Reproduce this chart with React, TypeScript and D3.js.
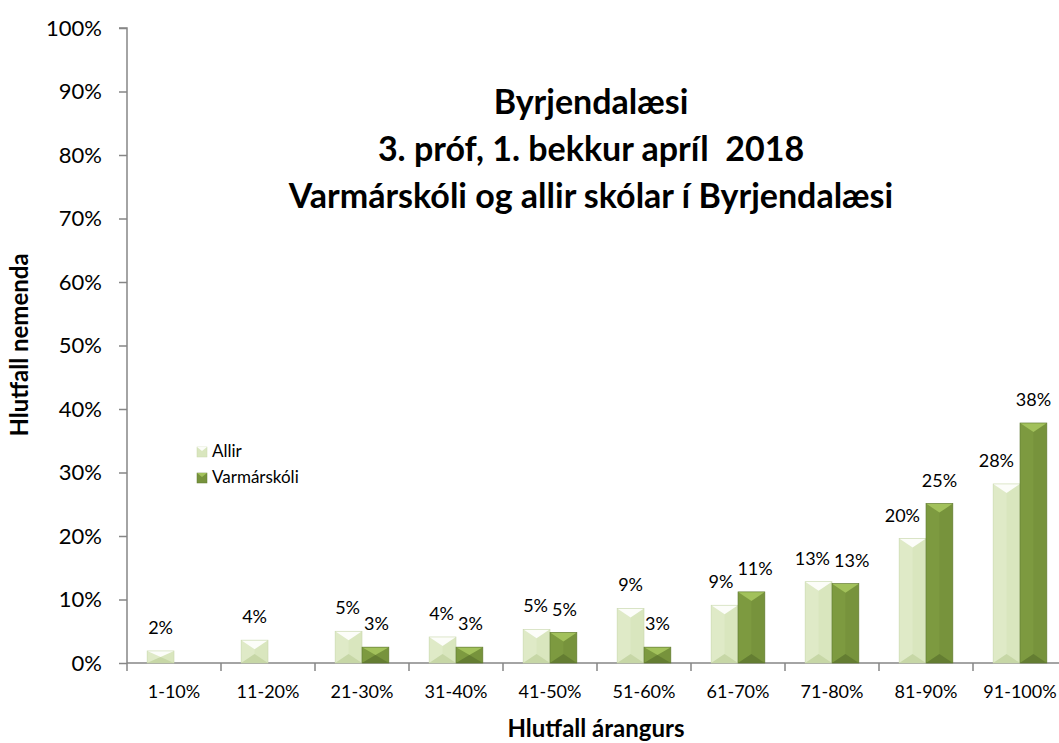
import React, { useRef, useEffect } from "react";
import * as d3 from "d3";

const categories = ["1-10%", "11-20%", "21-30%", "31-40%", "41-50%", "51-60%", "61-70%", "71-80%", "81-90%", "91-100%"];
const allir = [0.019, 0.036, 0.05, 0.041, 0.053, 0.086, 0.091, 0.128, 0.196, 0.282];
const varmarskoli = [0, 0, 0.025, 0.025, 0.048, 0.025, 0.112, 0.125, 0.251, 0.378];
const yTicks = [0, 0.1, 0.2, 0.3, 0.4, 0.5, 0.6, 0.7, 0.8, 0.9, 1];
const seriesNames = ["Allir", "Varmárskóli"];
const titleLines = ["Byrjendalæsi", "3. próf, 1. bekkur apríl  2018", "Varmárskóli og allir skólar í Byrjendalæsi"];

const W = 1059;
const H = 743;
const font = "Lato, 'Open Sans', sans-serif";

const styles = [
  { base: "#d9e6be", light: "#ffffff", dark: "#c2d3a0", side: "#e6efd3", stroke: "#c9d8ad" },
  { base: "#77933c", light: "#a6c65e", dark: "#5f7830", side: "#86a445", stroke: "#5f7830" },
];

const App = () => {
  const svgRef = useRef(null);

  useEffect(() => {
    const svg = d3.select(svgRef.current);
    svg.selectAll("*").remove();

    const left = 127;
    const x = d3.scaleBand().domain(categories).range([left, left + 94 * 10]).padding(0);
    const y = d3.scaleLinear().domain([0, 1]).range([663, 28]);
    const inner = d3.scaleBand().domain(seriesNames).range([0, x.bandwidth()]).paddingInner(0).paddingOuter(0.75);

    // y axis
    const yAxis = d3.axisLeft(y).tickValues(yTicks).tickFormat(d3.format(".0%")).tickSize(8).tickPadding(17);
    const gy = svg.append("g").attr("transform", `translate(${left},0)`).call(yAxis);
    gy.selectAll("path, line").attr("stroke", "#868686").attr("stroke-width", 1.5);
    gy.select("path").attr("d", `M-8,${y(1)}H0V${y(0)}`);
    gy.selectAll("text").attr("font-family", font).attr("font-size", 22).attr("fill", "#000");

    // x axis
    const gx = svg.append("g").attr("transform", `translate(0,${y(0)})`);
    gx.append("line").attr("x1", left).attr("x2", W).attr("y1", 0).attr("y2", 0)
      .attr("stroke", "#868686").attr("stroke-width", 1.5);
    gx.selectAll(".sep")
      .data(categories)
      .enter()
      .append("line")
      .attr("x1", (d) => x(d))
      .attr("x2", (d) => x(d))
      .attr("y1", 0)
      .attr("y2", 8)
      .attr("stroke", "#868686")
      .attr("stroke-width", 1.5);
    gx.selectAll(".lab")
      .data(categories)
      .enter()
      .append("text")
      .attr("x", (d) => x(d) + x.bandwidth() / 2)
      .attr("y", 35)
      .attr("text-anchor", "middle")
      .attr("font-family", font)
      .attr("font-size", 18)
      .text((d) => d);

    // bars
    const bars = svg.append("g");
    const labels = svg.append("g");
    const barInfo = categories.map((c, i) => [allir[i], varmarskoli[i]].map((v, s) => {
      const bx = x(c) + inner(seriesNames[s]);
      return { v, s, bx, bw: inner.bandwidth(), by: y(v), bh: y(0) - y(v) };
    }));

    barInfo.forEach((pair) => {
      pair.filter((b) => b.v > 0).forEach((b) => {
        const st = styles[b.s];
        const { bx, bw, by, bh } = b;
        const dep = Math.min(9, bh / 2);
        const g = bars.append("g");
        g.append("rect").attr("x", bx).attr("y", by).attr("width", bw).attr("height", bh).attr("fill", st.base);
        g.append("polygon")
          .attr("points", `${bx},${by} ${bx},${by + bh} ${bx + bw / 2},${by + bh - dep} ${bx + bw / 2},${by + dep}`)
          .attr("fill", st.side).attr("opacity", 0.45);
        g.append("polygon")
          .attr("points", `${bx},${by} ${bx + bw},${by} ${bx + bw / 2},${by + dep}`)
          .attr("fill", st.light).attr("opacity", 0.9);
        g.append("polygon")
          .attr("points", `${bx},${by + bh} ${bx + bw},${by + bh} ${bx + bw / 2},${by + bh - dep}`)
          .attr("fill", st.dark).attr("opacity", 0.8);
        g.append("rect").attr("x", bx).attr("y", by).attr("width", bw).attr("height", bh)
          .attr("fill", "none").attr("stroke", st.stroke).attr("stroke-width", 0.6);
      });

      // data labels, nudged apart like the spreadsheet does
      const texts = pair.map((b) => {
        if (b.v <= 0) return null;
        const t = labels.append("text")
          .attr("x", b.bx + b.bw / 2)
          .attr("y", b.by - 17)
          .attr("text-anchor", "middle")
          .attr("font-family", font)
          .attr("font-size", 18)
          .attr("fill", "#000")
          .text(d3.format(".0%")(b.v));
        const node = t.node() as SVGTextElement;
        return { t, w: node.getComputedTextLength(), cx: b.bx + b.bw / 2, base: b.by - 17 };
      });
      const [a, v] = texts;
      const [ba, bv] = pair;
      if (a && v) {
        if (Math.abs(a.base - v.base) < 20) {
          const over = a.w / 2 + v.w / 2 + 4 - (v.cx - a.cx);
          if (over > 0) {
            a.cx -= over / 2;
            v.cx += over / 2;
          }
        } else if (bv.by < a.base + 2) {
          const over = a.cx + a.w / 2 + 6 - bv.bx;
          if (over > 0) a.cx -= over;
        }
        a.t.attr("x", a.cx);
        v.t.attr("x", v.cx);
      }
    });

    // title
    const t = svg.append("text").attr("text-anchor", "middle").attr("font-family", font)
      .attr("font-weight", "bold").attr("font-size", 34).attr("fill", "#000")
      .attr("style", "white-space: pre");
    titleLines.forEach((line, i) => {
      t.append("tspan").attr("x", 591).attr("y", 114 + i * 47).text(line);
    });

    // axis titles
    svg.append("text").attr("x", 596).attr("y", 737).attr("text-anchor", "middle")
      .attr("font-family", font).attr("font-weight", "bold").attr("font-size", 24).text("Hlutfall árangurs");
    svg.append("text").attr("transform", "translate(28,345) rotate(-90)").attr("text-anchor", "middle")
      .attr("font-family", font).attr("font-weight", "bold").attr("font-size", 24).text("Hlutfall nemenda");

    // legend
    const lg = svg.append("g").attr("transform", "translate(197,447)");
    seriesNames.forEach((name, i) => {
      const st = styles[i];
      const row = lg.append("g").attr("transform", `translate(0,${i * 26})`);
      row.append("rect").attr("x", 0).attr("y", 0).attr("width", 10).attr("height", 10).attr("fill", st.base)
        .attr("stroke", st.stroke).attr("stroke-width", 0.5);
      row.append("polygon").attr("points", "0,0 10,0 5,4").attr("fill", st.light).attr("opacity", 0.9);
      row.append("text").attr("x", 15).attr("y", 10).attr("font-family", font).attr("font-size", 17).text(name);
    });
  }, []);

  return (
    <div>
      <svg ref={svgRef} width={W} height={H} style={{ position: "absolute", left: 0, top: 0 }}></svg>
    </div>
  );
};

export default App;
